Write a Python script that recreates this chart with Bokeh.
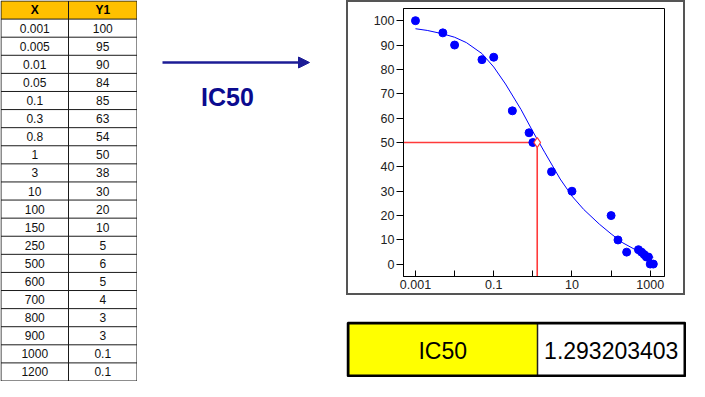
from bokeh.plotting import figure
from bokeh.layouts import row, column, Spacer
from bokeh.models import Range1d, FixedTicker, BasicTickFormatter, Arrow, NormalHead
from bokeh.core.properties import value
from bokeh.embed import file_html
from bokeh.resources import INLINE

# ---------------- data ----------------
col_headers = ["X", "Y1"]
x_conc = [0.001, 0.005, 0.01, 0.05, 0.1, 0.3, 0.8, 1, 3, 10,
          100, 150, 250, 500, 600, 700, 800, 900, 1000, 1200]
y_resp = [100, 95, 90, 84, 85, 63, 54, 50, 38, 30,
          20, 10, 5, 6, 5, 4, 3, 3, 0.1, 0.1]

# fitted curve
fit_x = [0.001, 0.002, 0.005, 0.01, 0.02, 0.05, 0.1, 0.2, 0.5, 1,
         2, 5, 10, 20, 50, 100, 200, 500, 1000, 1200]
fit_y = [96.7, 96.0, 94.6, 93.2, 91.0, 86.5, 81.0, 74.0, 63.5, 54.5,
         46.0, 35.0, 28.0, 22.5, 16.5, 12.5, 8.8, 5.3, 3.3, 2.9]

ic50 = 1.293203403
half_level = 50
summary_label = "IC50"
arrow_label = "IC50"

x_major_ticks = [0.001, 0.1, 10, 1000]
x_minor_ticks = [0.01, 1, 100]
y_ticks = [0, 10, 20, 30, 40, 50, 60, 70, 80, 90, 100]

FONT = "Liberation Sans"


def blank(w, h, xr, yr):
    f = figure(width=w, height=h, x_range=xr, y_range=yr,
               x_axis_location=None, y_axis_location=None,
               toolbar_location=None, output_backend="svg",
               min_border=0, outline_line_color=None,
               background_fill_color="white", border_fill_color="white")
    f.grid.visible = False
    f.frame_align = False
    return f


# ---------------- table ----------------
TW, TH = 137, 381
t = blank(TW, TH, Range1d(0, TW), Range1d(TH, 0))
n_rows = len(x_conc) + 1
rh = (TH - 1.0) / n_rows
left_e, mid_e, right_e = 0.5, 68.0, TW - 0.5
t.quad(left=[left_e], right=[right_e], top=[0.5], bottom=[0.5 + rh],
       fill_color="#FFC000", line_color=None)
ys = [0.5 + i * rh for i in range(n_rows + 1)]
t.segment(x0=[left_e] * len(ys), y0=ys, x1=[right_e] * len(ys), y1=ys,
          line_color="#1a1a1a", line_width=1)
t.segment(x0=[left_e, mid_e, right_e], y0=[0.5] * 3,
          x1=[left_e, mid_e, right_e], y1=[ys[-1]] * 3,
          line_color="#1a1a1a", line_width=1)
cx1, cx2 = (left_e + mid_e) / 2, (mid_e + right_e) / 2
t.text(x=[cx1, cx2], y=[0.5 + rh / 2] * 2, text=col_headers,
       text_align="center", text_baseline="middle",
       text_font=value(FONT), text_font_size="12px", text_font_style="bold",
       text_color="black")
centers = [0.5 + (i + 1.5) * rh for i in range(len(x_conc))]
t.text(x=[cx1] * len(x_conc), y=centers, text=[f"{v:g}" for v in x_conc],
       text_align="center", text_baseline="middle",
       text_font=value(FONT), text_font_size="12px", text_color="#111111")
t.text(x=[cx2] * len(y_resp), y=centers, text=[f"{v:g}" for v in y_resp],
       text_align="center", text_baseline="middle",
       text_font=value(FONT), text_font_size="12px", text_color="#111111")

# ---------------- middle (arrow) ----------------
MW = 209
m = blank(MW, TH, Range1d(0, MW), Range1d(TH, 0))
navy = "#1C1C96"
m.add_layout(Arrow(end=NormalHead(size=11, fill_color=navy, line_color=navy),
                   x_start=25, y_start=62, x_end=172, y_end=62,
                   line_color=navy, line_width=2.5))
m.text(x=[90], y=[96], text=[arrow_label], text_align="center",
       text_baseline="middle", text_font=value(FONT),
       text_font_size="25px", text_font_style="bold", text_color="#0B0B8F")

# ---------------- chart ----------------
c = figure(width=339, height=295, x_axis_type="log",
           x_range=Range1d(0.000494, 2317), y_range=Range1d(-5, 105),
           min_border_left=55, min_border_right=23, min_border_top=6,
           min_border_bottom=21, toolbar_location=None, output_backend="svg",
           background_fill_color="white", border_fill_color="white")
c.frame_align = False
c.styles = {"border": "2px solid #555555"}
c.grid.visible = False
c.outline_line_color = "black"
c.outline_line_alpha = 1
c.outline_line_width = 1

c.xaxis.ticker = FixedTicker(ticks=x_major_ticks, minor_ticks=x_minor_ticks)
c.xaxis.formatter = BasicTickFormatter(use_scientific=False)
c.xaxis.major_tick_in = 6
c.xaxis.major_tick_out = 0
c.xaxis.minor_tick_in = 6
c.xaxis.minor_tick_out = 0
c.xaxis.minor_tick_line_color = "black"
c.xaxis.major_label_standoff = 3

c.yaxis.ticker = FixedTicker(ticks=y_ticks)
c.yaxis.major_tick_in = 0
c.yaxis.major_tick_out = 7
c.yaxis.minor_tick_line_color = None
c.yaxis.major_label_standoff = 2

for ax in (c.xaxis, c.yaxis):
    ax.axis_line_color = "black"
    ax.major_tick_line_color = "black"
    ax.major_label_text_font = FONT
    ax.major_label_text_font_size = "12.5px"
    ax.major_label_text_color = "#222222"

c.line(fit_x, fit_y, line_color="#0000FF", line_width=1)
red = "#FF3A3A"
c.segment(x0=[c.x_range.start, ic50], y0=[half_level, half_level],
          x1=[ic50, ic50], y1=[half_level, c.y_range.start],
          line_color=red, line_width=1.6)
c.scatter(x_conc, y_resp, size=8, color="#0000FF")
c.scatter([ic50], [half_level], marker="diamond", size=10,
          fill_color="white", line_color=red, line_width=1.3)

# ---------------- result box ----------------
BW, BH = 340, 56
b = blank(BW, BH, Range1d(0, BW), Range1d(BH, 0))
split = 191
b.quad(left=[1.5, split], right=[split, BW - 1.5], top=[1.5, 1.5],
       bottom=[BH - 1.5, BH - 1.5], fill_color=["#FFFF00", "white"],
       line_color=None)
b.segment(x0=[split], y0=[1.5], x1=[split], y1=[BH - 1.5],
          line_color="#222222", line_width=1.5)
b.quad(left=[1.5], right=[BW - 1.5], top=[1.5], bottom=[BH - 1.5],
       fill_color=None, line_color="black", line_width=3)
b.text(x=[(1.5 + split) / 2, (split + BW - 1.5) / 2], y=[BH / 2 + 1] * 2,
       text=[summary_label, f"{ic50:.9f}"], text_align="center",
       text_baseline="middle", text_font=value(FONT),
       text_font_size="23px", text_color="black")

layout = row(t, m, column(c, Spacer(height=26), b))

open("out.html", "w").write(file_html(layout, INLINE))
